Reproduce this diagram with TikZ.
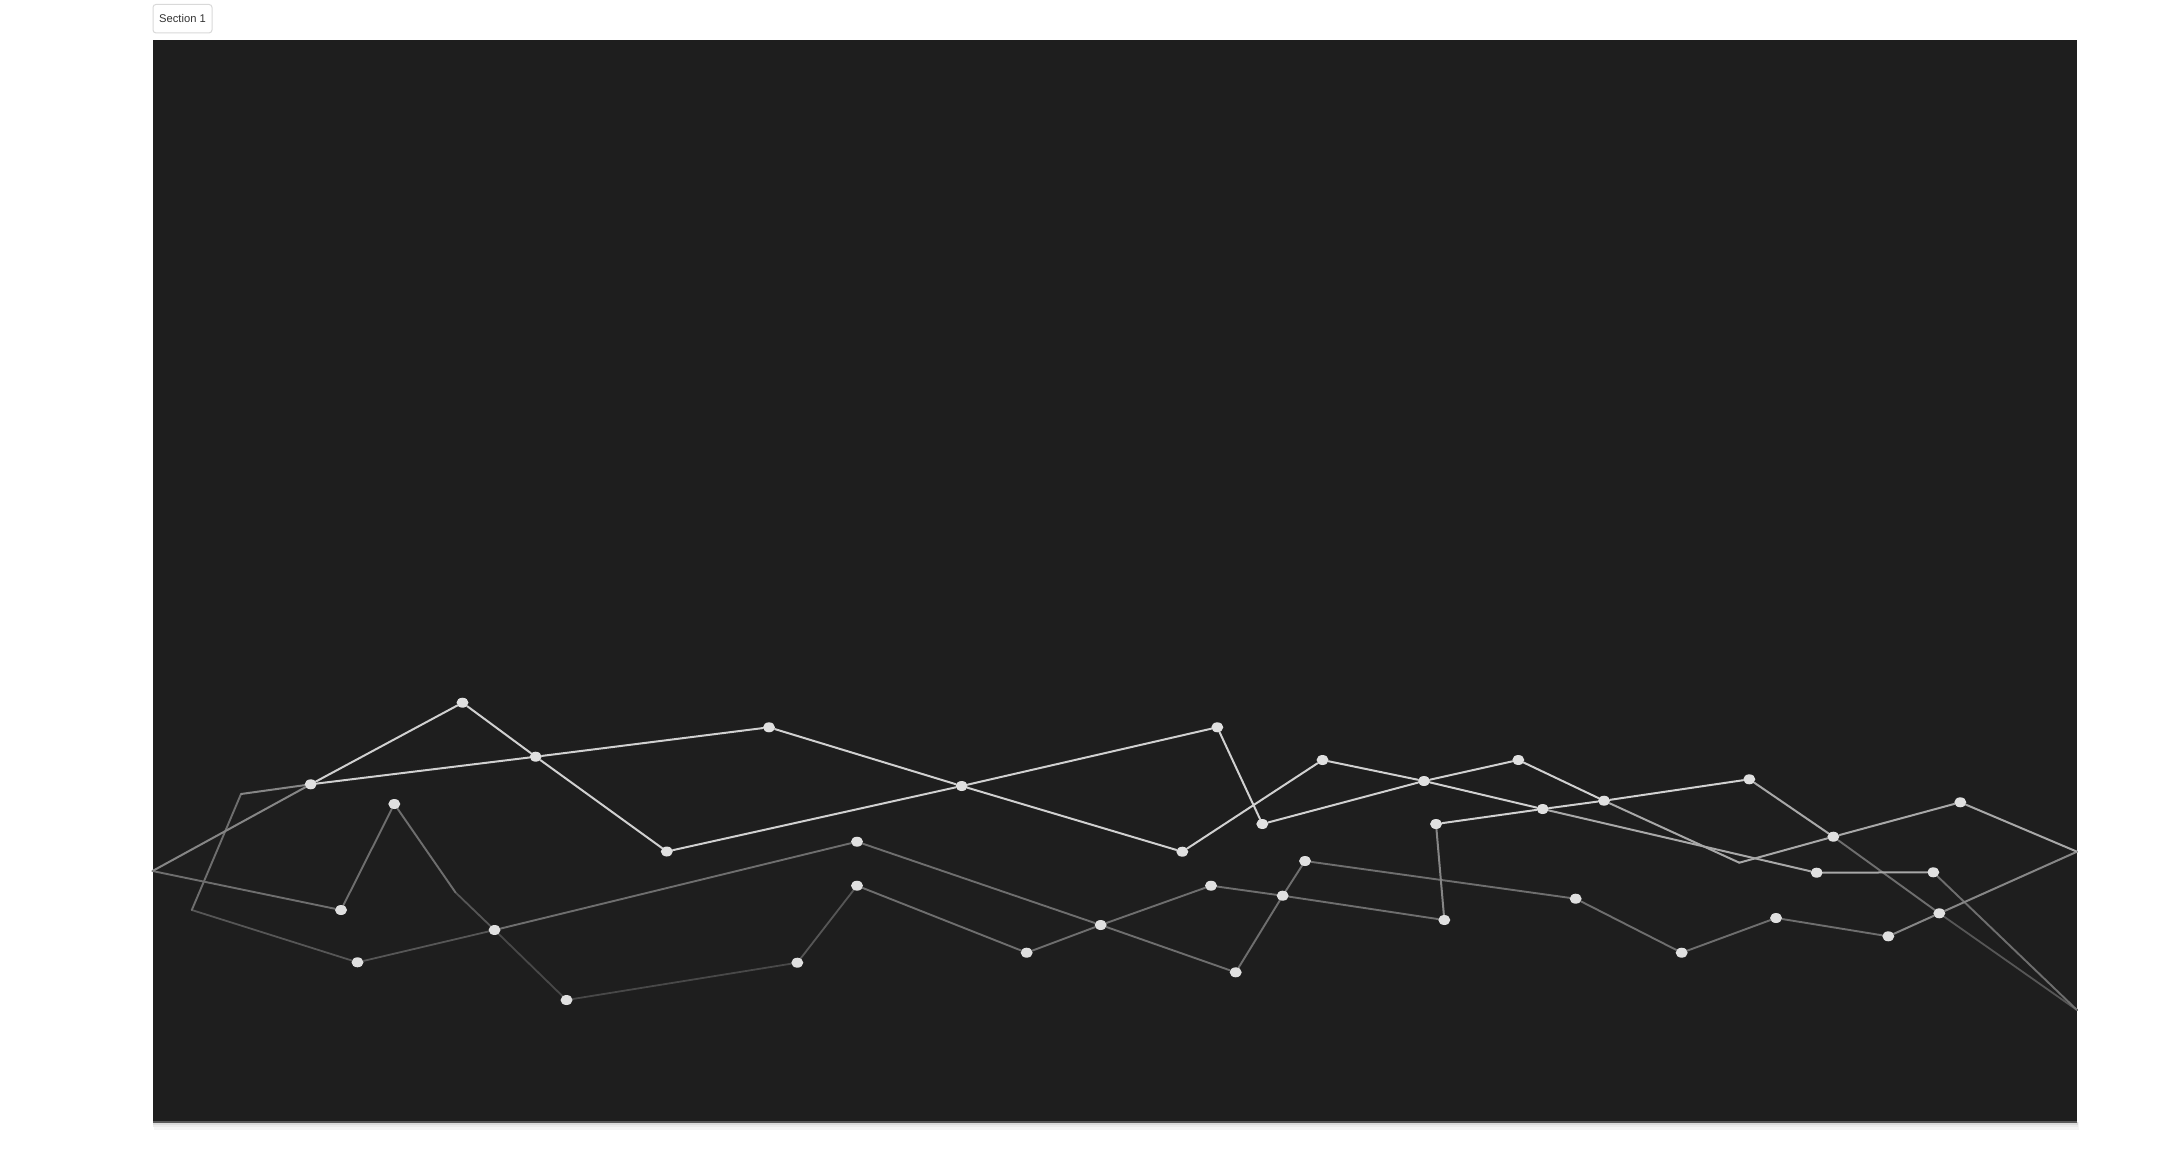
\documentclass[tikz,border=0pt]{standalone}
\usepackage{fontspec}
\setmainfont{Liberation Sans}
\usetikzlibrary{shapes.geometric}
\pgfdeclarelayer{panel}
\pgfdeclarelayer{lines}
\pgfsetlayers{panel,lines,main}
\definecolor{panelbg}{HTML}{1E1E1E}
\definecolor{mkcol}{HTML}{E0E0E0}
\definecolor{cB}{HTML}{D0D0D0}
\definecolor{cM}{HTML}{A8A8A8}
\definecolor{cG}{HTML}{868686}
\definecolor{cH}{HTML}{6E6E6E}
\definecolor{cD}{HTML}{565656}
\definecolor{cE}{HTML}{484848}
\definecolor{btnborder}{HTML}{D9D9D9}
\definecolor{btntext}{HTML}{333333}
\begin{document}
\begin{tikzpicture}[x=1pt,y=-1pt,
  mk/.style={ellipse,fill=mkcol,inner sep=0pt,minimum width=12pt,minimum height=10pt},
  ln/.style={line width=2pt,line cap=round,line join=round},
  lb/.style={ln,draw=cB},
  lm/.style={ln,draw=cM},
  lg/.style={ln,draw=cG},
  lh/.style={ln,line width=1.9pt,draw=cH},
  ld/.style={ln,line width=1.8pt,draw=cD},
  le/.style={ln,line width=1.8pt,draw=cE},
  btn/.style={draw=btnborder,fill=white,rounded corners=3pt,line width=1pt,minimum width=59pt,minimum height=28.5pt,inner sep=0pt,text=btntext,font=\fontsize{11.2}{13}\selectfont}]
\useasboundingbox (0,0) rectangle (2167,1172);
% panel
\begin{pgfonlayer}{panel}
\fill[white] (0,0) rectangle (2167,1172);
\fill[black!4] (154,1122) rectangle (2079,1130);
\fill[black!8] (153,1122) rectangle (2078,1127);
\fill[black!14] (152.5,1122) rectangle (2077.5,1125);
\fill[panelbg] (152.5,40) rectangle (2077,1122.7);
\fill[black!65] (152.5,1121) rectangle (2077,1123);
\end{pgfonlayer}
% section button
\node[btn] (sec) at (182.5,18.7) {Section 1};
% points without markers
\coordinate (F) at (152.5,871);
\coordinate (D) at (241,794);
\coordinate (H) at (191.8,910);
\coordinate (I) at (455.4,892.3);
\coordinate (AN) at (1739.3,862.7);
\coordinate (AT) at (2077,851.7);
\coordinate (AU) at (2077,1010);
% markers
\node[mk] (A1) at (462.5,702.7) {};
\node[mk] (B) at (535.7,756.7) {};
\node[mk] (C) at (310.7,784.3) {};
\node[mk] (E) at (394.3,804) {};
\node[mk] (G) at (341,910) {};
\node[mk] (J) at (494.6,930) {};
\node[mk] (K) at (357.5,962.3) {};
\node[mk] (L) at (666.8,851.5) {};
\node[mk] (M) at (566.5,1000) {};
\node[mk] (N) at (769,727.3) {};
\node[mk] (O) at (857,841.7) {};
\node[mk] (P) at (857,885.7) {};
\node[mk] (Q) at (797.3,962.7) {};
\node[mk] (R) at (961.7,786) {};
\node[mk] (S) at (1217.3,727.3) {};
\node[mk] (T) at (1182.3,851.7) {};
\node[mk] (U) at (1262.3,824) {};
\node[mk] (V) at (1322.5,760) {};
\node[mk] (W) at (1305,861) {};
\node[mk] (X) at (1211,885.7) {};
\node[mk] (Y) at (1282.7,895.7) {};
\node[mk] (Z) at (1100.7,925) {};
\node[mk] (AA) at (1026.7,952.7) {};
\node[mk] (AB) at (1235.7,972.3) {};
\node[mk] (AC) at (1424,781) {};
\node[mk] (AD) at (1518.3,760) {};
\node[mk] (AE) at (1604,800.7) {};
\node[mk] (AF) at (1542.7,809) {};
\node[mk] (AG) at (1436,824) {};
\node[mk] (AH) at (1444.3,920) {};
\node[mk] (AI) at (1575.7,898.7) {};
\node[mk] (AJ) at (1681.7,952.7) {};
\node[mk] (AK) at (1749.3,779.3) {};
\node[mk] (AL) at (1960.3,802.3) {};
\node[mk] (AM) at (1833.3,836.7) {};
\node[mk] (AO) at (1816.7,872.7) {};
\node[mk] (AP) at (1933.3,872.3) {};
\node[mk] (AQ) at (1776,918) {};
\node[mk] (AR) at (1888.3,936.3) {};
\node[mk] (AS) at (1939.3,913.3) {};
% connectors
\begin{pgfonlayer}{lines}
\draw[le] (J) -- (M);
\draw[le] (M) -- (Q);
\draw[ld] (J) -- (K);
\draw[ld] (K) -- (H);
\draw[ld] (I) -- (J);
\draw[ld] (Q) -- (P);
\draw[ld] (AS) -- (AU);
\draw[lh] (D) -- (H);
\draw[lh] (F) -- (G);
\draw[lh] (G) -- (E);
\draw[lh] (E) -- (I);
\draw[lh] (AR) -- (AQ);
\draw[lh] (AQ) -- (AJ);
\draw[lh] (AJ) -- (AI);
\draw[lh] (AI) -- (W);
\draw[lh] (W) -- (Y);
\draw[lh] (Y) -- (AB);
\draw[lh] (AB) -- (Z);
\draw[lh] (Z) -- (O);
\draw[lh] (O) -- (J);
\draw[lh] (AA) -- (Z);
\draw[lh] (Z) -- (X);
\draw[lh] (X) -- (Y);
\draw[lh] (Y) -- (AH);
\draw[lh] (AM) -- (AS);
\draw[lh] (AP) -- (AU);
\draw[lh] (P) -- (AA);
\draw[lg] (F) -- (C);
\draw[lg] (D) -- (C);
\draw[lg] (AT) -- (AS);
\draw[lg] (AS) -- (AR);
\draw[lg] (AH) -- (AG);
\draw[lm] (AE) -- (AN);
\draw[lm] (AN) -- (AM);
\draw[lm] (AM) -- (AL);
\draw[lm] (AL) -- (AT);
\draw[lm] (AF) -- (AO);
\draw[lm] (AO) -- (AP);
\draw[lm] (AK) -- (AM);
\draw[lb] (C) -- (A1);
\draw[lb] (A1) -- (B);
\draw[lb] (B) -- (L);
\draw[lb] (L) -- (R);
\draw[lb] (R) -- (S);
\draw[lb] (S) -- (U);
\draw[lb] (U) -- (AC);
\draw[lb] (AC) -- (AD);
\draw[lb] (AD) -- (AE);
\draw[lb] (C) -- (B);
\draw[lb] (B) -- (N);
\draw[lb] (N) -- (R);
\draw[lb] (R) -- (T);
\draw[lb] (T) -- (V);
\draw[lb] (V) -- (AC);
\draw[lb] (AC) -- (AF);
\draw[lb] (AG) -- (AF);
\draw[lb] (AF) -- (AE);
\draw[lb] (AE) -- (AK);
\end{pgfonlayer}
\end{tikzpicture}
\end{document}
